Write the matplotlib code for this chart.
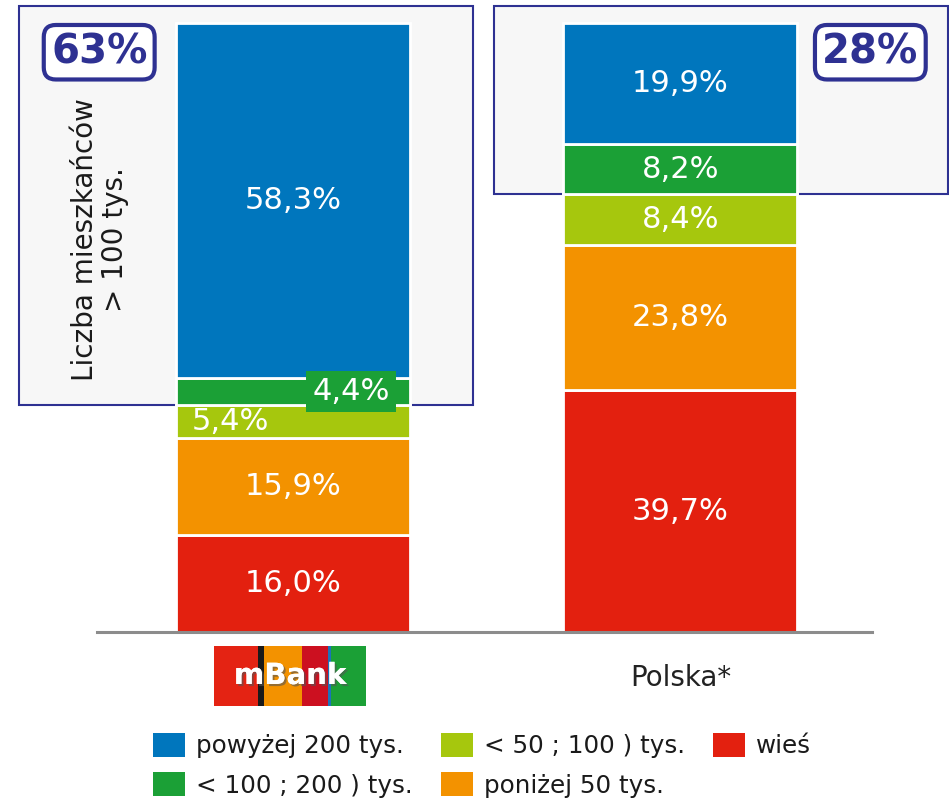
import matplotlib
matplotlib.use("Agg")
import matplotlib.pyplot as plt
from matplotlib.patches import Rectangle, Patch
import matplotlib.patheffects as pe

# data (share of customers / population by place size, %)
categories = ["mBank", "Polska*"]
wies = [16.0, 39.7]
ponizej_50 = [15.9, 23.8]
od_50_do_100 = [5.4, 8.4]
od_100_do_200 = [4.4, 8.2]
powyzej_200 = [58.3, 19.9]
over_100k = ["63%", "28%"]

seg_names = ["wieś", "poniżej 50 tys.", "< 50 ; 100 ) tys.",
             "< 100 ; 200 ) tys.", "powyżej 200 tys."]
seg_values = [wies, ponizej_50, od_50_do_100, od_100_do_200, powyzej_200]
seg_colors = ["#e3200f", "#f39200", "#a6c70d", "#1ba036", "#0076bd"]
navy = "#2e3192"

fig = plt.figure(figsize=(9.49, 8), dpi=100)
ax = fig.add_axes([0, 0.21, 1, 0.76125])
ax.set_xlim(-0.756, 1.693)
ax.set_ylim(0, 100)
ax.axis("off")

x = list(range(len(categories)))
bar_w = 0.604

# grey boxes marking the cities over 100k
box_spans = [(-0.707, 0.465), (0.519, 1.690)]
for i, (x0, x1) in enumerate(box_spans):
    bottom = 100 - (od_100_do_200[i] + powyzej_200[i])
    ax.add_patch(Rectangle((x0, bottom), x1 - x0, 102.8 - bottom,
                           facecolor="#f7f7f7", edgecolor=navy, lw=1.5,
                           zorder=1, clip_on=False))

bottoms = [0.0] * len(categories)
for vals, col in zip(seg_values, seg_colors):
    ax.bar(x, vals, bar_w, bottom=bottoms, color=col, edgecolor="white",
           linewidth=2, zorder=3, clip_on=False)
    for i, v in enumerate(vals):
        label = f"{v:.1f}%".replace(".", ",")
        yc = bottoms[i] + v / 2
        if i == 0 and vals is od_50_do_100:
            ax.text(x[i] - bar_w / 2 + 0.04, yc, label, ha="left", va="center",
                    color="white", fontsize=22, zorder=5)
        elif i == 0 and vals is od_100_do_200:
            ax.text(x[i] + 0.15, yc, label, ha="center", va="center",
                    color="white", fontsize=22, zorder=5,
                    bbox=dict(boxstyle="square,pad=0.2", fc=col, ec="none"))
        else:
            ax.text(x[i], yc, label, ha="center", va="center",
                    color="white", fontsize=22, zorder=5)
    bottoms = [b + v for b, v in zip(bottoms, vals)]

# baseline
ax.axhline(0, xmin=97 / 949, xmax=872 / 949, color="#8c8c8c", lw=2.2,
           zorder=4, clip_on=False)

# 63% / 28% badges
for xb, txt in zip([-0.50, 1.49], over_100k):
    ax.text(xb, 95.2, txt, ha="center", va="center", fontsize=29,
            fontweight="bold", color=navy, zorder=6,
            bbox=dict(boxstyle="round,pad=0.18,rounding_size=0.3",
                      fc="white", ec=navy, lw=3))

ax.text(-0.498, 64.4, "Liczba mieszkańców\n> 100 tys.", rotation=90,
        ha="center", va="center", multialignment="center", fontsize=20,
        color="#1a1a1a", linespacing=1.05, zorder=6)

ax.text(x[1], -7.6, categories[1], ha="center", va="center", fontsize=20,
        color="#222222", clip_on=False)

# mBank logo in place of the first category label
logo = fig.add_axes([214 / 949, 94 / 800, 152 / 949, 60 / 800])
stripe_w = [44, 6, 38, 26, 3, 35]
stripe_c = ["#e42313", "#1a1a1a", "#f39200", "#cc1020", "#1b73b9", "#1ba036"]
left = 0
for w, c in zip(stripe_w, stripe_c):
    logo.bar(left, 1, w, align="edge", color=c, linewidth=0)
    left += w
logo.set_xlim(0, left)
logo.set_ylim(0, 1)
logo.axis("off")
logo.text(left / 2, 0.5, "mBank", ha="center", va="center", color="white",
          fontsize=21, fontweight="bold",
          path_effects=[pe.withSimplePatchShadow(offset=(1.5, -1.5),
                                                  shadow_rgbFace="#555555",
                                                  alpha=0.6), pe.Normal()])

# legend
order = [4, 3, 2, 1, 0]
handles = [Patch(facecolor=seg_colors[k], edgecolor="none") for k in order]
labels = [seg_names[k] for k in order]
fig.legend(handles, labels, ncol=3, loc="upper left",
           bbox_to_anchor=(153 / 949, 67 / 800), frameon=False,
           fontsize=17.7, handlelength=1.3, handleheight=1.1,
           handletextpad=0.45, columnspacing=1.15, labelspacing=0.58,
           borderpad=0, borderaxespad=0, labelcolor="#1a1a1a")

fig.savefig("out.png", dpi=100, facecolor="white")
